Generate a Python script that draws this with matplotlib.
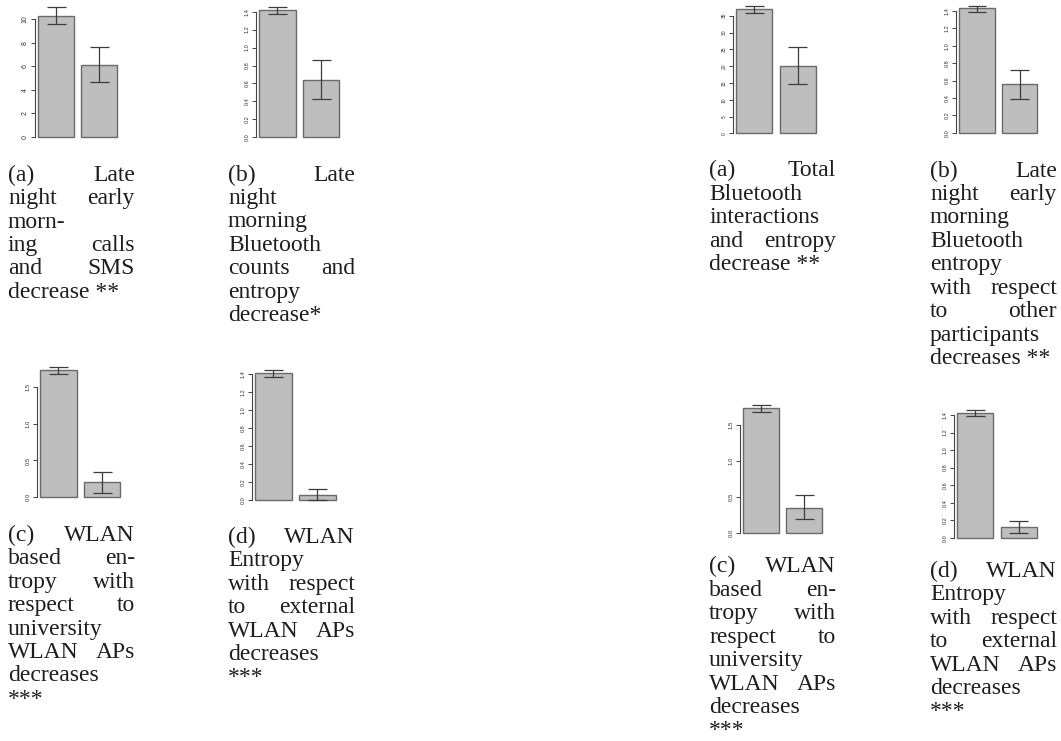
import matplotlib
matplotlib.use("Agg")
import matplotlib.pyplot as plt

# ---------------------------------------------------------------- data
# each panel: two bars (before / after) with upper and lower error limits

calls_mean = [10.25, 6.10]
calls_hi = [10.98, 7.60]
calls_lo = [9.60, 4.64]
calls_ticks = [0, 2, 4, 6, 8, 10]
calls_ticklabels = ["0", "2", "4", "6", "8", "10"]

bt_night_mean = [1.415, 0.642]
bt_night_hi = [1.449, 0.858]
bt_night_lo = [1.378, 0.427]

wlan_uni_mean = [1.723, 0.204]
wlan_uni_hi = [1.764, 0.347]
wlan_uni_lo = [1.677, 0.054]

wlan_ext_mean = [1.411, 0.056]
wlan_ext_hi = [1.451, 0.116]
wlan_ext_lo = [1.366, 0.000]

bt_total_mean = [36.9, 20.1]
bt_total_hi = [37.8, 25.6]
bt_total_lo = [35.9, 14.7]
bt_total_ticks = [0, 5, 10, 15, 20, 25, 30, 35]
bt_total_ticklabels = ["0", "5", "10", "15", "20", "25", "30", "35"]

bt_other_mean = [1.430, 0.557]
bt_other_hi = [1.461, 0.721]
bt_other_lo = [1.392, 0.391]

wlan_uni2_mean = [1.731, 0.355]
wlan_uni2_hi = [1.773, 0.526]
wlan_uni2_lo = [1.684, 0.198]

wlan_ext2_mean = [1.423, 0.122]
wlan_ext2_hi = [1.461, 0.194]
wlan_ext2_lo = [1.386, 0.054]

ticks_14 = [0.0, 0.2, 0.4, 0.6, 0.8, 1.0, 1.2, 1.4]
ticklabels_14 = ["0.0", "0.2", "0.4", "0.6", "0.8", "1.0", "1.2", "1.4"]
ticks_15 = [0.0, 0.5, 1.0, 1.5]
ticklabels_15 = ["0.0", "0.5", "1.0", "1.5"]

cap_calls = ["(a) Late", "night early", "morn-", "ing calls", "and SMS",
             "decrease **"]
cap_bt_night = ["(b) Late", "night", "morning", "Bluetooth", "counts and",
                "entropy", "decrease*"]
cap_wlan_uni = ["(c) WLAN", "based en-", "tropy with", "respect to",
                "university", "WLAN APs", "decreases", "***"]
cap_wlan_ext = ["(d) WLAN", "Entropy", "with respect", "to external",
                "WLAN APs", "decreases", "***"]
cap_bt_total = ["(a) Total", "Bluetooth", "interactions", "and entropy",
                "decrease **"]
cap_bt_other = ["(b) Late", "night early", "morning", "Bluetooth", "entropy",
                "with respect", "to other", "participants", "decreases **"]

# ---------------------------------------------------------------- figure
W, H = 1061, 741
fig = plt.figure(figsize=(W / 100, H / 100), dpi=100)
fig.patch.set_facecolor("white")

BAR_FACE = "#bebebe"
BAR_EDGE = "#6a6a6a"
ERR_COL = "#3c3c3c"
AX_COL = "#444444"
XLIM = (0.112, 2.488)
CENTERS = [0.7, 1.9]


def bar_panel(means, hi, lo, ticks, labels, axis_x, zero_y, per_unit,
              bar_px, fs):
    """Small R-style barplot; placement given in pixels."""
    top_val = max(hi) * 1.03
    bot_val = -0.04 * top_val
    width_px = (XLIM[1] - XLIM[0]) * bar_px
    top_px = zero_y - top_val * per_unit
    bot_px = zero_y - bot_val * per_unit
    ax = fig.add_axes([axis_x / W, 1 - bot_px / H, width_px / W,
                       (bot_px - top_px) / H])
    ax.set_xlim(*XLIM)
    ax.set_ylim(bot_val, top_val)
    ax.patch.set_alpha(0)
    ax.bar(CENTERS, means, width=1.0, color=BAR_FACE, edgecolor=BAR_EDGE,
           linewidth=1.0, zorder=2)
    for x, h, l in zip(CENTERS, hi, lo):
        ax.vlines(x, l, h, color=ERR_COL, linewidth=0.9, zorder=3,
                  clip_on=False)
        ax.hlines([l, h], x - 0.26, x + 0.26, color=ERR_COL, linewidth=0.9,
                  zorder=3, clip_on=False)
    for s in ("top", "right", "bottom"):
        ax.spines[s].set_visible(False)
    ax.spines["left"].set_bounds(ticks[0], ticks[-1])
    ax.spines["left"].set_color(AX_COL)
    ax.spines["left"].set_linewidth(0.8)
    ax.set_xticks([])
    ax.set_yticks(ticks, labels)
    ax.tick_params(axis="y", length=3, width=0.7, pad=1.5, colors=AX_COL,
                   labelsize=fs, labelrotation=90)
    for t in ax.get_yticklabels():
        t.set_va("center")
        t.set_family("Liberation Sans")
        t.set_color("#333333")
    return ax


CAP_FS = 17
CAP_LEAD = 23.4
CAP_W = 127


def caption(lines, x0, baseline0):
    """Justified caption block drawn word by word (pixel placement)."""
    renderer = fig.canvas.get_renderer()
    for i, line in enumerate(lines):
        y = 1 - (baseline0 + i * CAP_LEAD) / H
        words = line.split()
        last = i == len(lines) - 1
        if last or len(words) == 1:
            fig.text(x0 / W, y, line, ha="left", va="baseline",
                     fontsize=CAP_FS, family="Liberation Serif",
                     color="#1e1e1e")
            continue
        objs = [fig.text(0, y, w, ha="left", va="baseline", fontsize=CAP_FS,
                         family="Liberation Serif", color="#1e1e1e")
                for w in words]
        widths = [o.get_window_extent(renderer).width for o in objs]
        gap = (CAP_W - sum(widths)) / (len(words) - 1)
        x = x0
        for o, wd in zip(objs, widths):
            o.set_x(x / W)
            x += wd + gap


# left group
bar_panel(calls_mean, calls_hi, calls_lo, calls_ticks, calls_ticklabels,
          35.0, 137.0, 11.8, 36.0, 5.0)
bar_panel(bt_night_mean, bt_night_hi, bt_night_lo, ticks_14, ticklabels_14,
          255.7, 137.3, 89.7, 36.6, 4.0)
bar_panel(wlan_uni_mean, wlan_uni_hi, wlan_uni_lo, ticks_15, ticklabels_15,
          36.7, 497.3, 73.7, 36.6, 4.2)
bar_panel(wlan_ext_mean, wlan_ext_hi, wlan_ext_lo, ticks_14, ticklabels_14,
          251.7, 499.7, 89.6, 36.7, 4.0)

# right group
bar_panel(bt_total_mean, bt_total_hi, bt_total_lo, bt_total_ticks,
          bt_total_ticklabels, 733.3, 133.3, 3.36, 36.0, 3.6)
bar_panel(bt_other_mean, bt_other_hi, bt_other_lo, ticks_14, ticklabels_14,
          956.0, 132.7, 86.9, 35.6, 4.0)
bar_panel(wlan_uni2_mean, wlan_uni2_hi, wlan_uni2_lo, ticks_15, ticklabels_15,
          740.0, 533.3, 72.2, 36.0, 4.3)
bar_panel(wlan_ext2_mean, wlan_ext2_hi, wlan_ext2_lo, ticks_14, ticklabels_14,
          954.3, 537.7, 87.6, 36.0, 4.0)

caption(cap_calls, 8, 180.7)
caption(cap_bt_night, 228, 180.7)
caption(cap_wlan_uni, 8, 541.0)
caption(cap_wlan_ext, 228, 543.0)
caption(cap_bt_total, 709, 176.5)
caption(cap_bt_other, 930, 176.7)
caption(cap_wlan_uni, 709, 572.5)
caption(cap_wlan_ext, 930, 577.0)

fig.savefig("out.png", dpi=100, facecolor="white")
